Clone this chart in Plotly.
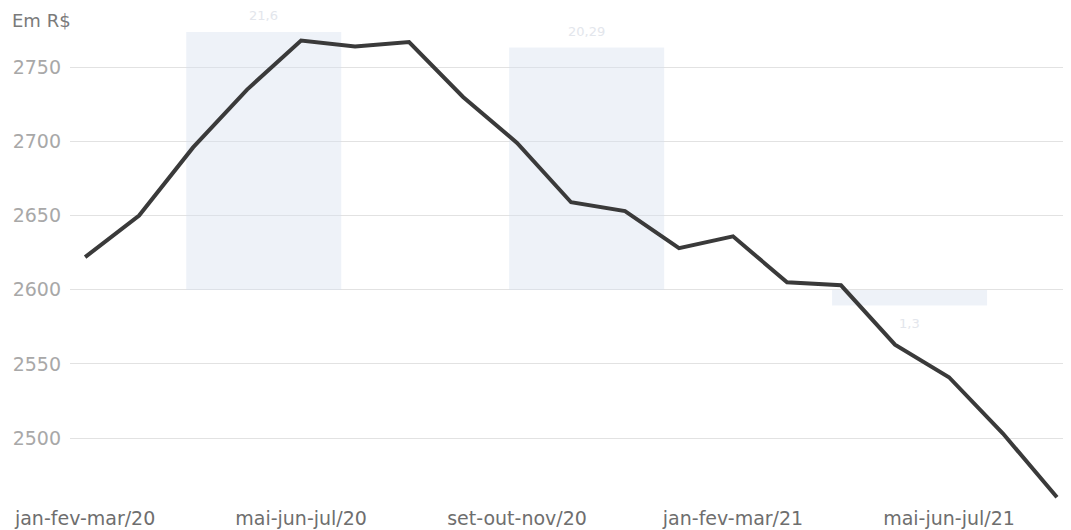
import plotly.graph_objects as go

# --- data ---
categories = [
    "jan-fev-mar/20", "fev-mar-abr/20", "mar-abr-mai/20", "abr-mai-jun/20",
    "mai-jun-jul/20", "jun-jul-ago/20", "jul-ago-set/20", "ago-set-out/20",
    "set-out-nov/20", "out-nov-dez/20", "nov-dez-jan/21", "dez-jan-fev/21",
    "jan-fev-mar/21", "fev-mar-abr/21", "mar-abr-mai/21", "abr-mai-jun/21",
    "mai-jun-jul/21", "jun-jul-ago/21", "jul-ago-set/21",
]
rendimento = [2622, 2650, 2696, 2735, 2768, 2764, 2767, 2730, 2699, 2659,
              2653, 2628, 2636, 2605, 2603, 2563, 2541, 2503, 2460]
tick_labels = ["jan-fev-mar/20", "mai-jun-jul/20", "set-out-nov/20",
               "jan-fev-mar/21", "mai-jun-jul/21"]
y_ticks = [2500, 2550, 2600, 2650, 2700, 2750]

# faint show-through bars visible behind the line
ghost_categories = ["g1", "g2", "g3"]
ghost_values = [21.6, 20.29, -1.3]
ghost_labels = ["21,6", "20,29", "1,3"]

FONT = "DejaVu Sans"

fig = go.Figure()

# ghost bars on the base axes (drawn underneath)
fig.add_trace(go.Bar(
    x=ghost_categories, y=ghost_values,
    marker=dict(color="rgba(214,224,238,0.42)", line=dict(width=0)),
    width=0.48, xaxis="x", yaxis="y", hoverinfo="skip",
))

# main line on the overlaying axes (drawn on top)
fig.add_trace(go.Scatter(
    x=categories, y=rendimento, mode="lines",
    line=dict(color="#3a3a3a", width=4),
    xaxis="x2", yaxis="y2", hoverinfo="skip",
))

annotations = [dict(
    text="Em R$", xref="paper", yref="paper",
    x=-0.06, y=1.0, xanchor="left", yanchor="top",
    showarrow=False,
    font=dict(family=FONT, size=18, color="#7a7a7a"),
)]
for cat, val, lab in zip(ghost_categories, ghost_values, ghost_labels):
    annotations.append(dict(
        text=lab, xref="x", yref="y", x=cat, y=val,
        yshift=16 if val >= 0 else -18, yanchor="middle",
        showarrow=False,
        font=dict(family=FONT, size=13, color="#e3e6ec"),
    ))

# the page places the figure 8 px in from the top-left corner,
# so the figure is sized to end exactly at the window edge
fig.update_layout(
    width=1063, height=522,
    margin=dict(l=62, r=0, t=0, b=30),
    paper_bgcolor="white", plot_bgcolor="white",
    showlegend=False,
    xaxis=dict(
        type="category", range=[-0.60, 2.50], visible=False,
        automargin=False,
    ),
    yaxis=dict(
        range=[-17.57, 23.6], visible=False, automargin=False,
    ),
    xaxis2=dict(
        type="category", range=[-0.28, 18.26], overlaying="x",
        tickvals=tick_labels, ticktext=tick_labels,
        showgrid=False, zeroline=False, showline=False, ticks="",
        automargin=False, ticklabelstandoff=5,
        tickfont=dict(family=FONT, size=19, color="#6e6e6e"),
    ),
    yaxis2=dict(
        range=[2458.2, 2790], tickvals=y_ticks, overlaying="y", side="left",
        showgrid=True, gridcolor="#e2e2e2", gridwidth=1,
        zeroline=False, showline=False, ticks="",
        automargin=False, ticklabelstandoff=8,
        tickfont=dict(family=FONT, size=19, color="#a8a8a8"),
    ),
    annotations=annotations,
)

fig.write_html("out.html")
